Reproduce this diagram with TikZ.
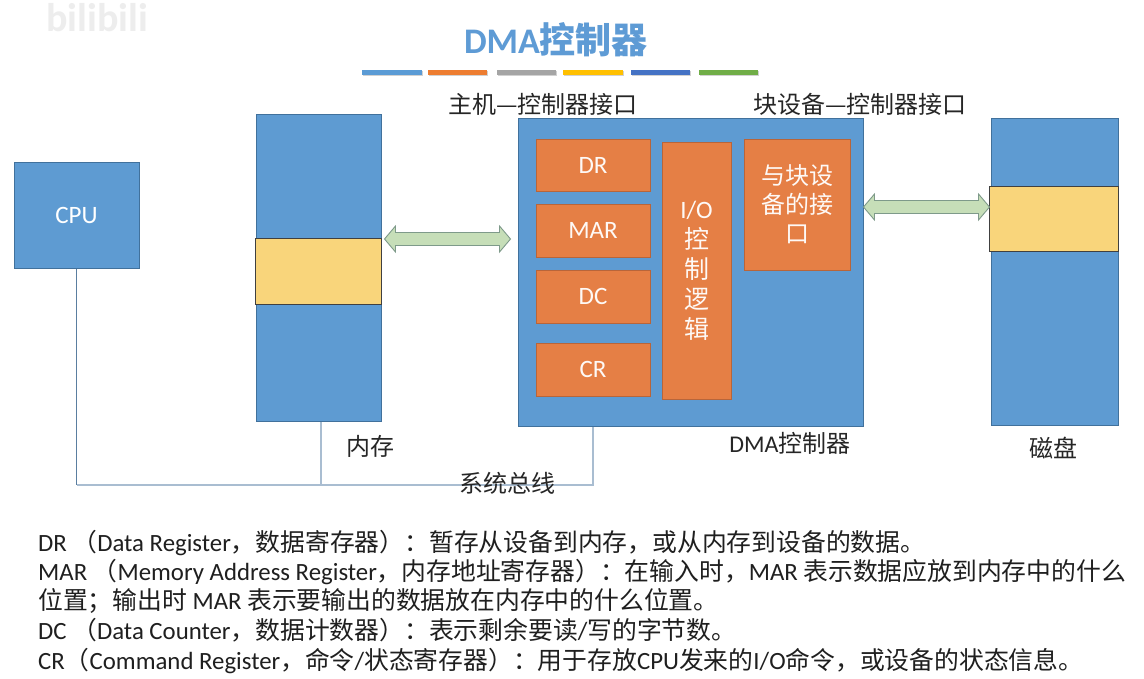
\documentclass[tikz,border=0pt]{standalone}
\usepackage{fontspec}
\setmainfont{Carlito}
\newfontfamily\cjk{Noto Sans CJK SC}
\usetikzlibrary{calc}
\definecolor{blueF}{HTML}{5E9BD2}
\definecolor{blueD}{HTML}{41719C}
\definecolor{orangeF}{HTML}{E57F45}
\definecolor{orangeD}{HTML}{B8653A}
\definecolor{yellowF}{HTML}{F9D57B}
\definecolor{greenF}{HTML}{C6DEB8}
\definecolor{greenD}{HTML}{7E9A8A}
\definecolor{busC}{HTML}{A9BDD1}
\definecolor{cpuLine}{HTML}{5A7EA0}
\definecolor{titleC}{HTML}{5E9BD5}
\definecolor{barA}{HTML}{5B9BD5}
\definecolor{barB}{HTML}{ED7D31}
\definecolor{barC}{HTML}{A5A5A5}
\definecolor{barD}{HTML}{FFC000}
\definecolor{barE}{HTML}{4472C4}
\definecolor{barF}{HTML}{70AD47}
\newcommand\zh[1]{{\cjk #1}}
\newcommand\fatarrow[2]{%
  \draw[fatarr] let \p1=(#1), \p2=(#2) in
   (\x1,\y1) -- (\x1+11pt,\y1+13pt) -- (\x1+11pt,\y1+6.5pt) -- (\x2-11pt,\y1+6.5pt)
   -- (\x2-11pt,\y1+13pt) -- (\x2,\y1) -- (\x2-11pt,\y1-13pt) -- (\x2-11pt,\y1-6.5pt)
   -- (\x1+11pt,\y1-6.5pt) -- (\x1+11pt,\y1-13pt) -- cycle;}
\begin{document}
\begin{tikzpicture}[x=1pt,y=-1pt,
  bluebox/.style={draw=blueD, fill=blueF, line width=1pt, inner sep=0pt,
    text=white, font=\fontsize{25}{30}\selectfont},
  orgbox/.style={draw=orangeD, fill=orangeF, line width=0.8pt, inner sep=0pt,
    text=white!95!orangeF, font=\fontsize{25}{30}\selectfont, align=center},
  band/.style={draw=black!75, fill=yellowF, line width=0.8pt, inner sep=0pt},
  lbl/.style={inner sep=0pt, font=\fontsize{24}{30}\selectfont\cjk, text=black!85},
  note/.style={inner sep=0pt, anchor=base west, font=\fontsize{24.8}{30}\selectfont, text=black!88},
  fatarr/.style={draw=greenD, fill=greenF, line width=0.9pt, line join=miter},
  bus/.style={draw=busC, line width=1.6pt},
  bar/.style={line width=5pt}
]
\useasboundingbox (0,0) rectangle (1144,678);
\fill[white] (0,0) rectangle (1144,678);

% watermark
\node[inner sep=0pt, text=black!7, font=\fontsize{40}{40}\selectfont\bfseries] (wm) at (97,18) {bilibili};

% title
\node[inner sep=0pt, text=titleC, font=\fontsize{36}{40}\selectfont\bfseries] (title) at (556,40) {DMA\zh{控制器}};

% colour bars
\foreach \xa/\xb/\c in {362/422/barA, 428/487/barB, 497/556/barC, 563/623/barD, 631/690/barE, 699/758/barF}{
  \draw[bar, black!18] (\xa+1,73.5) -- (\xb+1,73.5);
  \draw[bar, \c] (\xa,72) -- (\xb,72);
}

% main blocks
\node[bluebox, minimum width=125, minimum height=106] (cpu) at (76.5,215) {CPU};
\node[bluebox, minimum width=125, minimum height=307] (mem) at (318.5,267.5) {};
\node[band, minimum width=126, minimum height=66] (memband) at (318,271) {};
\node[bluebox, minimum width=345, minimum height=308] (dma) at (690.5,272) {};
\node[bluebox, minimum width=127, minimum height=307] (disk) at (1054.5,271.5) {};
\node[band, minimum width=129, minimum height=65] (diskband) at (1053.5,218.5) {};

% registers
\node[orgbox, minimum width=114, minimum height=52] (dr) at (593,165) {DR};
\node[orgbox, minimum width=114, minimum height=53] (mar) at (593,230.5) {MAR};
\node[orgbox, minimum width=114, minimum height=53] (dc) at (593,296.5) {DC};
\node[orgbox, minimum width=114, minimum height=53] (cr) at (593,369.5) {CR};
\node[orgbox, minimum width=69, minimum height=257] (io) at (696.5,270.5) {I/O\\\zh{控}\\\zh{制}\\\zh{逻}\\\zh{辑}};
\node[orgbox, minimum width=106, minimum height=131, font=\fontsize{24}{29}\selectfont\cjk] (blk) at (797,204.5) {与块设\\备的接\\口};

% labels
\node[lbl] (hostlbl) at (543,104) {主机—控制器接口};
\node[lbl] (blklbl) at (860,104) {块设备—控制器接口};
\node[lbl] (dmalbl) at (790,443) {{\fontspec{Carlito}DMA}控制器};
\node[lbl] (disklbl) at (1053,448) {磁盘};
\node[lbl] (memlbl) at (370,446) {内存};

% fat double arrows
\coordinate (yl) at (0,239);
\coordinate (yr) at (0,207);
\coordinate (al1) at ([xshift=3pt]mem.east |- yl);
\coordinate (al2) at ([xshift=-7pt]dma.west |- yl);
\coordinate (ar1) at (dma.east |- yr);
\coordinate (ar2) at ([xshift=-1pt]disk.west |- yr);
\fatarrow{al1}{al2}
\fatarrow{ar1}{ar2}

% system bus
\coordinate (busL) at (76.5,485);
\coordinate (busR) at (593,485);
\coordinate (busM) at (321,485);
\draw[bus] (busL) -- (busR) -- (busR |- dma.south);
\draw[bus] (busM) -- (busM |- mem.south);
\draw[draw=cpuLine, line width=1.3pt] (cpu.south) -- (busL);
\node[lbl] (buslbl) at (507,483) {系统总线};

% notes
\node[note] (n1) at (38,551) {DR \zh{（}Data Register\zh{，数据寄存器）：暂存从设备到内存，或从内存到设备的数据。}};
\node[note] (n2) at (38,580) {MAR \zh{（}Memory Address Register\zh{，内存地址寄存器）：在输入时，}MAR \zh{表示数据应放到内存中的什么}};
\node[note] (n3) at (38,609) {\zh{位置；输出时} MAR \zh{表示要输出的数据放在内存中的什么位置。}};
\node[note] (n4) at (38,639) {DC \zh{（}Data Counter\zh{，数据计数器）：表示剩余要读}/\zh{写的字节数。}};
\node[note] (n5) at (38,669) {CR\zh{（}Command Register\zh{，命令}/\zh{状态寄存器）：用于存放}CPU\zh{发来的}I/O\zh{命令，或设备的状态信息。}};
\end{tikzpicture}
\end{document}
